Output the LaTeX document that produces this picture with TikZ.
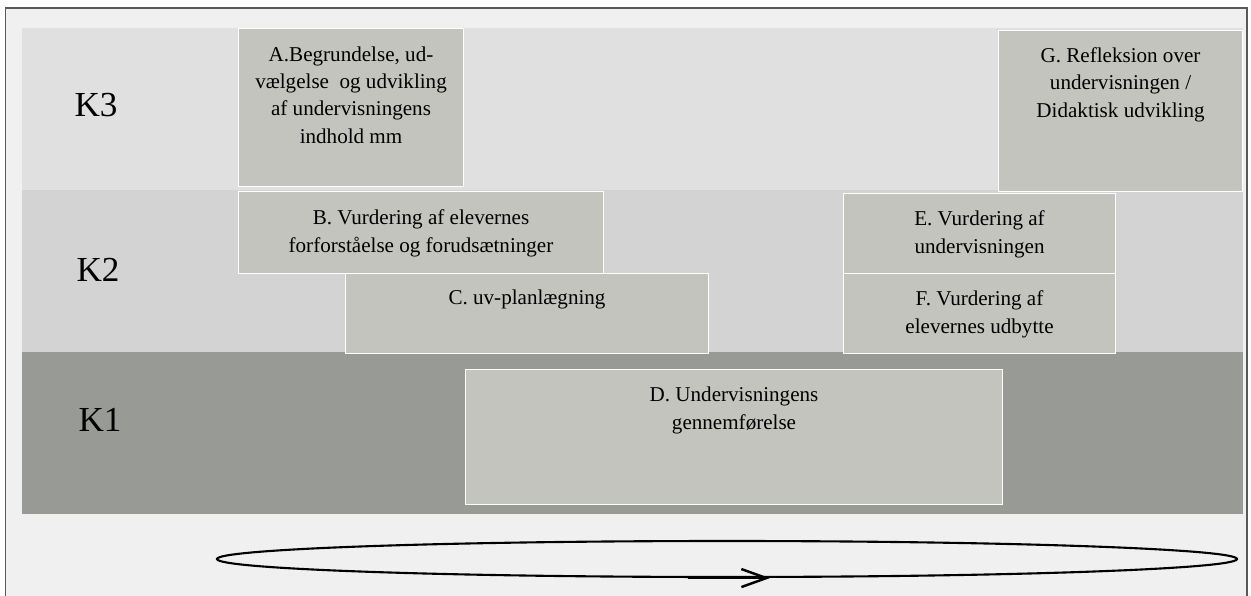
\documentclass[tikz,border=0pt]{standalone}
\usepackage{fontspec}
\setmainfont{Liberation Serif}
\usepackage{tikz}
\usetikzlibrary{shapes.geometric, arrows.meta, positioning, calc}
\definecolor{pagegray}{HTML}{F0F0F0}
\definecolor{levelthree}{HTML}{E0E0E0}
\definecolor{leveltwo}{HTML}{D3D3D3}
\definecolor{levelone}{HTML}{979A95}
\definecolor{taskgray}{HTML}{C3C4BD}

\begin{document}
\begin{tikzpicture}[>=Stealth]
    \tikzstyle{band} = [rectangle, anchor=north west, minimum width=24.42cm, minimum height=3.24cm, inner sep=0pt]
    \tikzstyle{levellabel} = [font=\fontsize{20}{22}\selectfont, anchor=center]
    \tikzstyle{task} = [rectangle, anchor=north west, fill=taskgray, draw=white, line width=0.6pt, inner sep=0pt]
    \tikzstyle{tasktext} = [align=center, anchor=base, inner sep=0pt, font=\fontsize{12}{15.4}\selectfont]

    \useasboundingbox (0,0) rectangle (25.02,-11.92);
    \fill [pagegray] (0.11,-0.16) rectangle (24.94,-11.92);
    \draw [gray!70!black, line width=0.8pt] (0.11,-11.92) |- (24.94,-0.16) -- (24.94,-11.92);

    % level bands
    \node (k3) [band, fill=levelthree] at (0.44,-0.56) {};
    \node (k2) [band, fill=leveltwo]   at (0.44,-3.80) {};
    \node (k1) [band, fill=levelone]   at (0.44,-7.04) {};
    \node (k3lbl) [levellabel] at (1.92,-2.10) {K3};
    \node (k2lbl) [levellabel] at (1.96,-5.40) {K2};
    \node (k1lbl) [levellabel] at (2.00,-8.40) {K1};

    % task boxes
    \node (boxA) [task, minimum width=4.50cm,  minimum height=3.16cm] at (4.76,-0.56) {};
    \node (boxG) [task, minimum width=4.88cm,  minimum height=3.22cm] at (19.96,-0.60) {};
    \node (boxB) [task, minimum width=7.30cm,  minimum height=1.64cm] at (4.76,-3.82) {};
    \node (boxC) [task, minimum width=7.26cm,  minimum height=1.60cm] at (6.90,-5.46) {};
    \node (boxE) [task, minimum width=5.44cm,  minimum height=1.60cm] at (16.86,-3.86) {};
    \node (boxF) [task, minimum width=5.44cm,  minimum height=1.60cm] at (16.86,-5.46) {};
    \node (boxD) [task, minimum width=10.74cm, minimum height=2.70cm] at (9.30,-7.38) {};

    % texts, anchored at the baseline of their last line
    \node (txtA) [tasktext] at ($(boxA.north)+(0,-2.30)$) {A.Begrundelse, ud-\\vælgelse\ \ og udvikling\\af undervisningens\\indhold mm};
    \node (txtG) [tasktext] at ($(boxG.north)+(0,-1.74)$) {G. Refleksion over\\undervisningen /\\Didaktisk udvikling};
    \node (txtB) [tasktext] at ($(boxB.north)+(0,-1.22)$) {B. Vurdering af elevernes\\forforståelse og forudsætninger};
    \node (txtC) [tasktext] at ($(boxC.north)+(0,-0.62)$) {C. uv-planlægning};
    \node (txtE) [tasktext] at ($(boxE.north)+(0,-1.20)$) {E. Vurdering af\\undervisningen};
    \node (txtF) [tasktext] at ($(boxF.north)+(0,-1.20)$) {F. Vurdering af\\elevernes udbytte};
    \node (txtD) [tasktext] at ($(boxD.north)+(0,-1.20)$) {D. Undervisningens\\gennemførelse};

    % cycle
    \node (cycle) [ellipse, draw, line width=1.2pt, minimum width=20.4cm, minimum height=0.72cm, inner sep=0pt] at (14.54,-11.18) {};
    \draw [line width=1.4pt, -{Straight Barb[length=0.5cm, width=0.36cm]}] ([xshift=-0.78cm]cycle.south) -- ([xshift=0.86cm]cycle.south);
\end{tikzpicture}
\end{document}
